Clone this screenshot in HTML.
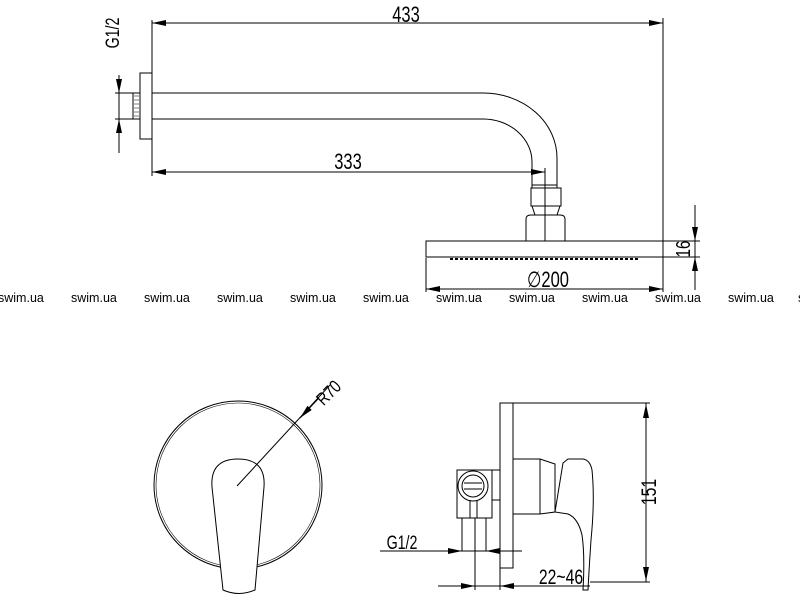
<!DOCTYPE html>
<html><head><meta charset="utf-8"><style>
html,body{margin:0;padding:0;background:#fff;width:800px;height:600px;overflow:hidden}
svg{display:block}
text{font-family:"Liberation Sans",sans-serif;fill:#000}
.w{fill:#999;font-size:12.5px;font-family:"Liberation Sans",sans-serif}
</style></head><body>
<svg width="800" height="600" viewBox="0 0 800 600" xmlns="http://www.w3.org/2000/svg">
<defs>
<marker id="a" viewBox="0 0 14 6" refX="14" refY="3" markerWidth="14" markerHeight="6" markerUnits="userSpaceOnUse" orient="auto"><path d="M0,0L14,3L0,6z" fill="#000"/></marker>
</defs>
<g stroke="#000" stroke-width="1" fill="none">
<!-- top view -->
<line x1="152" y1="20" x2="152" y2="176"/>
<line x1="663" y1="18" x2="663" y2="292"/>
<line x1="152" y1="23" x2="663" y2="23"/>
<path d="M400,23L663,23" marker-end="url(#a)"/>
<path d="M400,23L152,23" marker-end="url(#a)"/>
<line x1="152" y1="172" x2="545" y2="172"/>
<path d="M350,172L545,172" marker-end="url(#a)"/>
<path d="M350,172L152,172" marker-end="url(#a)"/>
<line x1="545" y1="168" x2="545" y2="241"/>
<rect x="140" y="73" width="12" height="66"/>
<rect x="133" y="93" width="7" height="26"/>
<path d="M134,96h5M134,100h5M134,104h5M134,108h5M134,112h5M134,116h5" stroke-width="0.6"/>
<line x1="119" y1="75" x2="119" y2="153"/>
<line x1="115" y1="93" x2="133" y2="93"/>
<line x1="115" y1="119" x2="133" y2="119"/>
<path d="M119,76L119,93" marker-end="url(#a)"/>
<path d="M119,152L119,119" marker-end="url(#a)"/>
<path d="M152,93H483A74,65 0 0 1 557,158V185"/>
<path d="M152,119H483A49,43 0 0 1 532,162V185"/>
<rect x="532" y="185" width="25" height="3"/>
<rect x="531" y="188" width="30" height="18"/>
<path d="M532,206h28l-3,9h-22z"/>
<path d="M526,241V219q0,-4 5,-4h29q5,0 5,4V241"/>
<rect x="426" y="241" width="237" height="16"/>
<line x1="663" y1="257" x2="700" y2="257"/>
<line x1="663" y1="241" x2="700" y2="241"/>
<line x1="450" y1="259" x2="640" y2="259" stroke-dasharray="3,2" stroke-width="2"/>
<line x1="695" y1="205" x2="695" y2="290"/>
<path d="M695,210L695,241" marker-end="url(#a)"/>
<path d="M695,290L695,257" marker-end="url(#a)"/>
<line x1="426" y1="258" x2="426" y2="292"/>
<line x1="426" y1="289" x2="663" y2="289"/>
<path d="M540,289L426,289" marker-end="url(#a)"/>
<path d="M540,289L663,289" marker-end="url(#a)"/>
<!-- front round -->
<circle cx="238" cy="485" r="84"/>
<circle cx="238" cy="485" r="82" stroke-width="0.6"/>
<path d="M223,590Q239,597 255,590L264,487Q266,459 238,459Q210,459 212,487Z" fill="#fff"/>
<line x1="237" y1="486" x2="330" y2="385"/>
<path d="M318,399L300,418" marker-end="url(#a)"/>
<!-- side view -->
<rect x="500" y="403" width="13" height="165"/>
<line x1="513" y1="403" x2="650" y2="403"/>
<line x1="590" y1="582" x2="650" y2="582"/>
<line x1="646" y1="403" x2="646" y2="582"/>
<path d="M646,440L646,404" marker-end="url(#a)"/>
<path d="M646,545L646,581" marker-end="url(#a)"/>
<path d="M513,459H540L555,464V512L540,514H513"/>
<line x1="540" y1="459" x2="540" y2="514"/>
<path d="M555,512L563,463L568,459H583Q590,460 592,470Q595,500 591,540Q589,570 588,590L583,590Q585,555 582,535Q578,518 568,514Z" fill="#fff"/>
<rect x="457" y="470" width="35" height="48"/>
<rect x="492" y="470" width="8" height="30"/>
<circle cx="473" cy="486" r="15" fill="#fff"/>
<circle cx="473" cy="486" r="11"/>
<path d="M464,483h18M464,489h18"/>
<path d="M470,500v18M477,500v18"/>
<line x1="462" y1="518" x2="462" y2="551"/>
<line x1="475" y1="518" x2="475" y2="590"/>
<line x1="486" y1="518" x2="486" y2="551"/>
<line x1="380" y1="551" x2="522" y2="551"/>
<path d="M445,551L462,551" marker-end="url(#a)"/>
<path d="M505,551L486,551" marker-end="url(#a)"/>
<line x1="438" y1="586" x2="590" y2="586"/>
<line x1="500" y1="568" x2="500" y2="590"/>
<path d="M455,586L475,586" marker-end="url(#a)"/>
<path d="M520,586L500,586" marker-end="url(#a)"/>
</g>
<g font-size="22">
<text transform="translate(406,22) scale(0.75,1)" text-anchor="middle">433</text>
<text transform="translate(348,169) scale(0.75,1)" text-anchor="middle">333</text>
<text transform="translate(548,287) scale(0.75,1)" text-anchor="middle">∅200</text>
<text transform="translate(690,249) rotate(-90) scale(0.75,1)" text-anchor="middle" font-size="20">16</text>
<text transform="translate(119,33) rotate(-90) scale(0.75,1)" text-anchor="middle" font-size="19">G1/2</text>
<text transform="translate(333,397) rotate(-45) scale(0.8,1)" text-anchor="middle" font-size="18">R70</text>
<text transform="translate(402,549) scale(0.75,1)" text-anchor="middle" font-size="19">G1/2</text>
<text transform="translate(561,584) scale(0.75,1)" text-anchor="middle" font-size="21">22~46</text>
<text transform="translate(656,492) rotate(-90) scale(0.75,1)" text-anchor="middle" font-size="21">151</text>
</g>
<g class="w">
<text x="-2" y="302">swim.ua</text><text x="71" y="302">swim.ua</text><text x="144" y="302">swim.ua</text><text x="217" y="302">swim.ua</text><text x="290" y="302">swim.ua</text><text x="363" y="302">swim.ua</text><text x="436" y="302">swim.ua</text><text x="509" y="302">swim.ua</text><text x="582" y="302">swim.ua</text><text x="655" y="302">swim.ua</text><text x="728" y="302">swim.ua</text><text x="798" y="302">swim.ua</text>
</g>
</svg>
</body></html>
